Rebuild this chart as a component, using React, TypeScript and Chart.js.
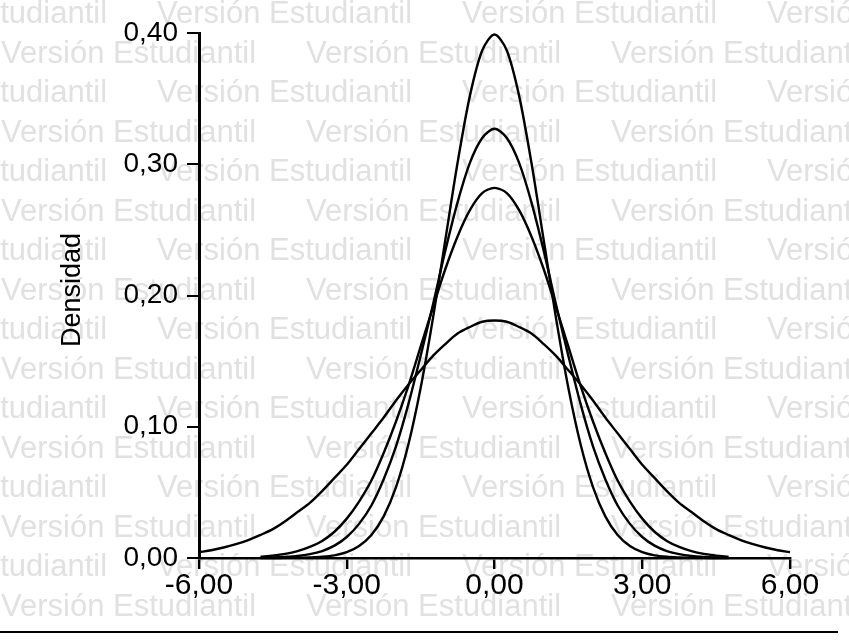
import React, { useEffect, useRef } from 'react';
import { Chart, registerables } from 'chart.js';

Chart.register(...registerables);

// ---- data ----
const xNarrow = [-4.75, -4.5, -4.25, -4, -3.75, -3.5, -3.25, -3, -2.75, -2.5, -2.25, -2, -1.75, -1.5, -1.25, -1, -0.75, -0.5, -0.25, 0, 0.25, 0.5, 0.75, 1, 1.25, 1.5, 1.75, 2, 2.25, 2.5, 2.75, 3, 3.25, 3.5, 3.75, 4, 4.25, 4.5, 4.75];
const xWide = [-6, -5.75, -5.5, -5.25, -5, -4.75, -4.5, -4.25, -4, -3.75, -3.5, -3.25, -3, -2.75, -2.5, -2.25, -2, -1.75, -1.5, -1.25, -1, -0.75, -0.5, -0.25, 0, 0.25, 0.5, 0.75, 1, 1.25, 1.5, 1.75, 2, 2.25, 2.5, 2.75, 3, 3.25, 3.5, 3.75, 4, 4.25, 4.5, 4.75, 5, 5.25, 5.5, 5.75, 6];

const densA = [0.0000, 0.0000, 0.0001, 0.0001, 0.0004, 0.0009, 0.0020, 0.0044, 0.0091, 0.0175, 0.0317, 0.0540, 0.0863, 0.1295, 0.1826, 0.2420, 0.3011, 0.3521, 0.3867, 0.3989, 0.3867, 0.3521, 0.3011, 0.2420, 0.1826, 0.1295, 0.0863, 0.0540, 0.0317, 0.0175, 0.0091, 0.0044, 0.0020, 0.0009, 0.0004, 0.0001, 0.0001, 0.0000, 0.0000];
const densB = [0.0002, 0.0004, 0.0008, 0.0015, 0.0029, 0.0053, 0.0094, 0.016, 0.026, 0.040, 0.060, 0.085, 0.117, 0.154, 0.193, 0.234, 0.271, 0.301, 0.320, 0.327, 0.320, 0.301, 0.271, 0.234, 0.193, 0.154, 0.117, 0.085, 0.060, 0.040, 0.026, 0.016, 0.0094, 0.0053, 0.0029, 0.0015, 0.0008, 0.0004, 0.0002];
const densC = [0.0010, 0.0018, 0.0031, 0.0052, 0.0084, 0.013, 0.020, 0.030, 0.043, 0.059, 0.080, 0.104, 0.131, 0.161, 0.191, 0.220, 0.245, 0.265, 0.278, 0.282, 0.278, 0.265, 0.245, 0.220, 0.191, 0.161, 0.131, 0.104, 0.080, 0.059, 0.043, 0.030, 0.020, 0.013, 0.0084, 0.0052, 0.0031, 0.0018, 0.0010];
const densD = [0.0044, 0.0059, 0.0080, 0.0105, 0.0137, 0.0176, 0.022, 0.028, 0.035, 0.042, 0.051, 0.061, 0.071, 0.083, 0.095, 0.107, 0.120, 0.132, 0.143, 0.154, 0.163, 0.171, 0.176, 0.180, 0.181, 0.180, 0.176, 0.171, 0.163, 0.154, 0.143, 0.132, 0.120, 0.107, 0.095, 0.083, 0.071, 0.061, 0.051, 0.042, 0.035, 0.028, 0.022, 0.0176, 0.0137, 0.0105, 0.0080, 0.0059, 0.0044];

const xTickValues = [-6, -3, 0, 3, 6];
const xTickLabels = ['-6,00', '-3,00', '0,00', '3,00', '6,00'];
const yTickValues = [0, 0.1, 0.2, 0.3, 0.4];
const yTickLabels = ['0,00', '0,10', '0,20', '0,30', '0,40'];
const yTitle = 'Densidad';
const watermarkText = 'Versión Estudiantil';

// ---- layout ----
const W = 849;
const H = 641;
const AXIS_LEFT = 199;
const AXIS_RIGHT = 790;
const AREA_TOP = 33;
const AREA_BOTTOM = 558;
const X_AXIS_H = 50;
const FONT = '"Liberation Sans", Arial, Helvetica, sans-serif';

const toPoints = (xs: number[], ys: number[]) => xs.map((x, i) => ({ x, y: ys[i] }));

export default function App() {
  const bgRef = useRef<HTMLCanvasElement | null>(null);
  const chartRef = useRef<HTMLCanvasElement | null>(null);

  useEffect(() => {
    const bg = bgRef.current;
    if (bg) {
      const ctx = bg.getContext('2d');
      if (ctx) {
        ctx.clearRect(0, 0, W, H);
        ctx.fillStyle = '#ffffff';
        ctx.fillRect(0, 0, W, H);
        // watermark
        ctx.fillStyle = '#e1e1e1';
        ctx.font = `31px ${FONT}`;
        ctx.textBaseline = 'alphabetic';
        ctx.textAlign = 'left';
        for (let k = 0; k < 16; k++) {
          const y = 23 + 39.5 * k;
          const start = k % 2 === 0 ? -148 : 1;
          for (let j = 0; j < 4; j++) {
            ctx.fillText(watermarkText, start + 305 * j, y);
          }
        }
        // axis title
        ctx.save();
        ctx.fillStyle = '#000000';
        ctx.font = `27px ${FONT}`;
        ctx.translate(73, 290);
        ctx.rotate(-Math.PI / 2);
        ctx.textAlign = 'center';
        ctx.textBaseline = 'middle';
        ctx.fillText(yTitle, 0, 0);
        ctx.restore();
        // bottom rule
        ctx.fillStyle = '#000000';
        ctx.fillRect(0, 631, 838, 2);
      }
    }

    const canvas = chartRef.current;
    if (!canvas) return;
    const black = '#000000';
    const ds = (xs: number[], ys: number[]) => ({
      data: toPoints(xs, ys),
      borderColor: black,
      borderWidth: 2.4,
      pointRadius: 0,
      tension: 0.3,
      fill: false,
      clip: false as any,
    });
    const chart = new Chart(canvas, {
      type: 'line',
      data: {
        datasets: [ds(xWide, densD), ds(xNarrow, densC), ds(xNarrow, densB), ds(xNarrow, densA)],
      },
      options: {
        responsive: false,
        animation: false,
        devicePixelRatio: 1,
        layout: {
          padding: { left: 0, top: AREA_TOP, right: W - AXIS_RIGHT, bottom: H - AREA_BOTTOM - X_AXIS_H },
        },
        plugins: {
          legend: { display: false },
          tooltip: { enabled: false },
          title: { display: false },
        },
        scales: {
          x: {
            type: 'linear',
            min: -6,
            max: 6,
            afterBuildTicks: (s: any) => {
              s.ticks = xTickValues.map((v) => ({ value: v }));
            },
            afterFit: (s: any) => {
              s.height = X_AXIS_H;
            },
            grid: { display: true, drawOnChartArea: false, drawTicks: true, tickLength: 11, color: black, lineWidth: 2.4 },
            border: { display: true, color: black, width: 2.5 },
            ticks: {
              color: black,
              font: { family: FONT, size: 30 },
              padding: -1,
              maxRotation: 0,
              autoSkip: false,
              callback: (v: any) => xTickLabels[xTickValues.indexOf(Number(v))],
            },
          },
          y: {
            type: 'linear',
            min: 0,
            max: 0.4,
            afterBuildTicks: (s: any) => {
              s.ticks = yTickValues.map((v) => ({ value: v }));
            },
            afterFit: (s: any) => {
              s.width = AXIS_LEFT;
            },
            grid: { display: true, drawOnChartArea: false, drawTicks: true, tickLength: 12, color: black, lineWidth: 2 },
            border: { display: true, color: black, width: 3 },
            ticks: {
              color: black,
              font: { family: FONT, size: 28 },
              padding: 9,
              autoSkip: false,
              callback: (v: any) => yTickLabels[yTickValues.indexOf(Number(v))],
            },
          },
        },
      },
    } as any);
    return () => {
      chart.destroy();
    };
  }, []);

  return (
    <div style={{ position: 'absolute', left: 0, top: 0, width: W, height: H }}>
      <canvas ref={bgRef} width={W} height={H} style={{ position: 'absolute', left: 0, top: 0, width: W, height: H }} />
      <canvas
        ref={chartRef}
        width={W}
        height={H}
        style={{ position: 'absolute', left: 0, top: 0, width: W, height: H }}
      />
    </div>
  );
}
